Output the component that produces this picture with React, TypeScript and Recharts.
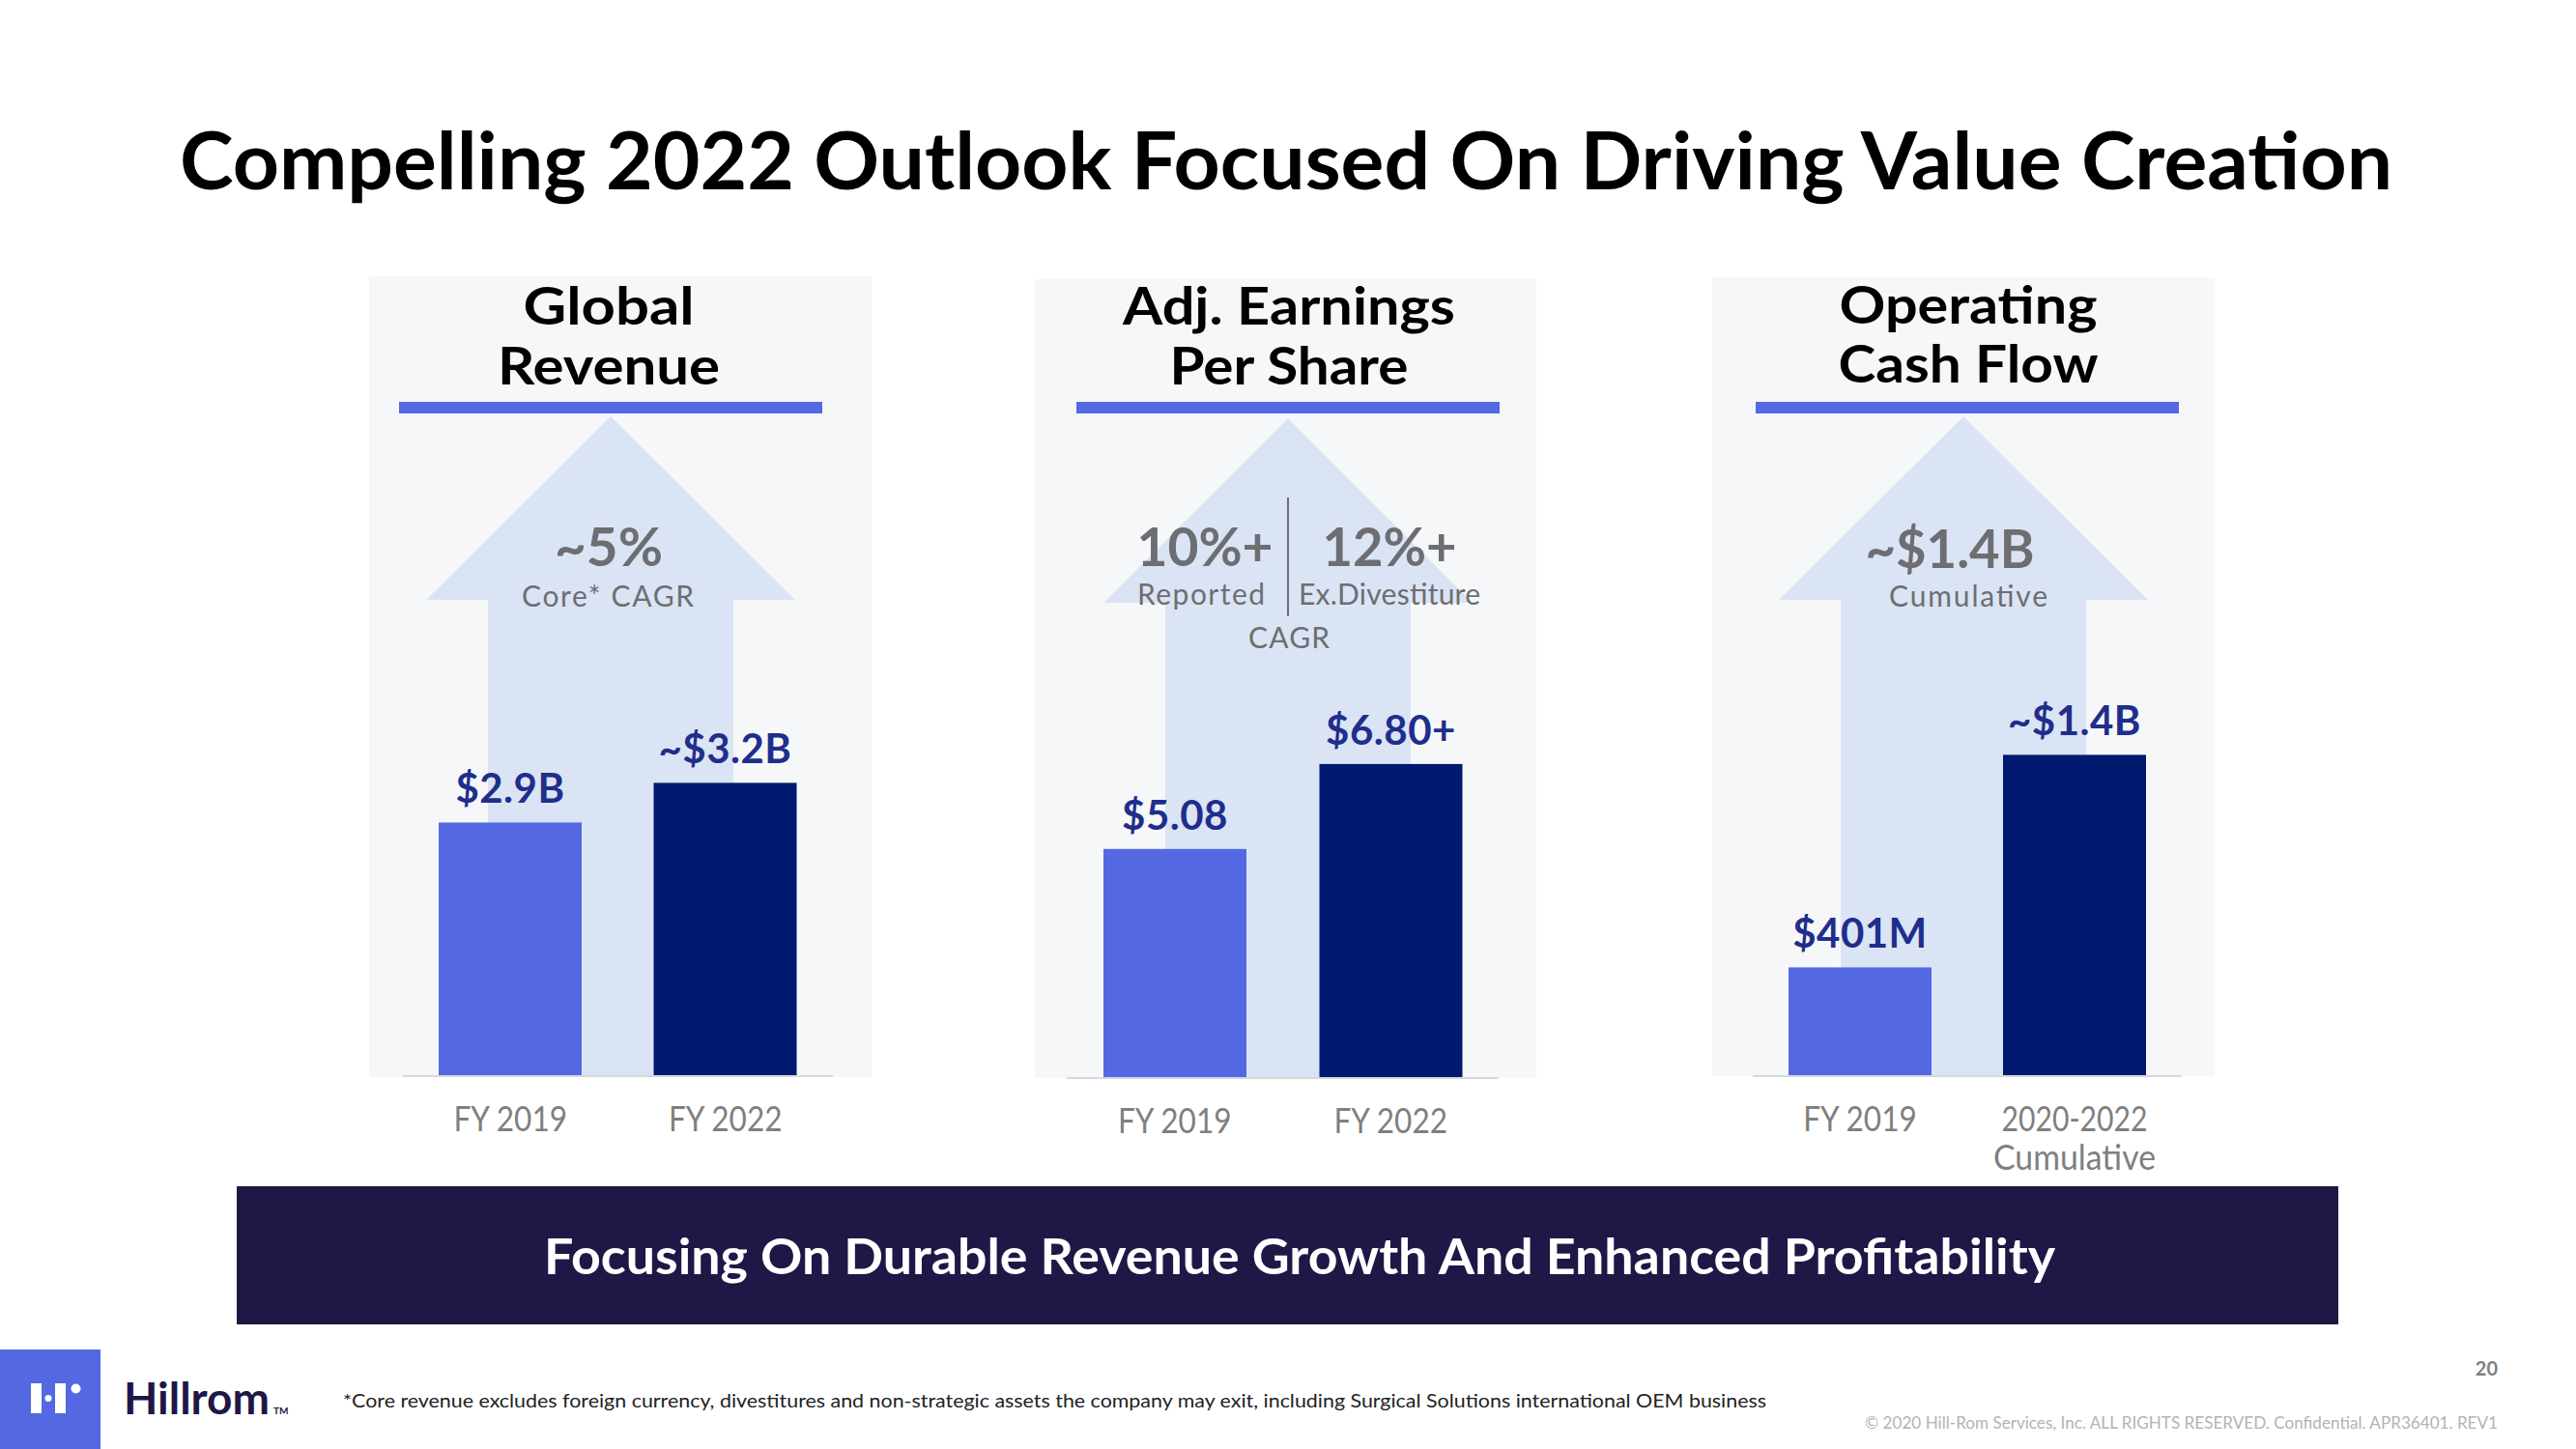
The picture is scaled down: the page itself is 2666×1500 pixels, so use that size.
import React from 'react';
import { BarChart, Bar, XAxis, YAxis, Cell, LabelList } from 'recharts';

// ---------- data ----------
const revenueCategories = ['FY 2019', 'FY 2022'];
const revenueValues = [2.9, 3.2]; // $B
const revenueLabels = ['$2.9B', '~$3.2B'];

const epsCategories = ['FY 2019', 'FY 2022'];
const epsValues = [5.08, 6.8]; // $ per share
const epsLabels = ['$5.08', '$6.80+'];

const cashCategories = ['FY 2019', '2020-2022\nCumulative'];
const cashValues = [0.401, 1.4]; // $B
const cashLabels = ['$401M', '~$1.4B'];

const barColors = ['#5469E1', '#001A70'];

const titleText = 'Compelling 2022 Outlook Focused On Driving Value Creation';
const bannerText = 'Focusing On Durable Revenue Growth And Enhanced Profitability';
const footnoteText =
  '*Core revenue excludes foreign currency, divestitures and non-strategic assets the company may exit, including Surgical Solutions international OEM business';
const copyrightText = '\u00A9 2020  Hill-Rom Services, Inc. ALL RIGHTS RESERVED. Confidential. APR36401. REV1';

// ---------- styles ----------
const FONT = "Lato, 'Noto Sans', 'DejaVu Sans', sans-serif";
const GRAY = '#6D6E71';

const BarShape = (props: any) => {
  const { x, y, width, height, fill, background } = props;
  const bottom =
    background && Number.isFinite(background.y) && Number.isFinite(background.height)
      ? background.y + background.height
      : y + height;
  return <rect x={x} y={y} width={width} height={Math.max(0, bottom - y)} fill={fill} />;
};

const TopLabel = (props: any) => {
  const vb = props.viewBox || {};
  const x = Number.isFinite(props.x) ? props.x : vb.x;
  const y = Number.isFinite(props.y) ? props.y : vb.y;
  const w = Number.isFinite(props.width) ? props.width : vb.width;
  return (
    <text
      x={x + w / 2}
      y={y - 20}
      textAnchor="middle"
      fontFamily={FONT}
      fontWeight={700}
      fontSize={42}
      letterSpacing={0.5}
      fill="#1F2E8C"
    >
      {props.value}
    </text>
  );
};

const CatTick = (props: any) => {
  const { x, y, payload } = props;
  const lines = String(payload.value).split('\n');
  return (
    <g>
      {lines.map((ln, i) => (
        <text
          key={i}
          x={x}
          y={y + 57 + i * 40}
          textAnchor="middle"
          fontFamily={FONT}
          fontSize={36}
          fill="#7F7F7F"
          textLength={ln.length * 16.8}
          lengthAdjust="spacingAndGlyphs"
        >
          {ln}
        </text>
      ))}
    </g>
  );
};

function PanelChart(p: {
  left: number;
  top: number;
  width: number;
  plotHeight: number;
  domain: [number, number];
  categories: string[];
  values: number[];
  labels: string[];
}) {
  const data = p.categories.map((c, i) => ({ name: c, value: p.values[i], label: p.labels[i] }));
  const axisH = 130;
  const h = p.plotHeight + axisH;
  return (
    <div style={{ position: 'absolute', left: p.left, top: p.top, width: p.width, height: h }}>
      <BarChart width={p.width} height={h} data={data} margin={{ top: 0, right: 0, bottom: 0, left: 0 }} barSize={148}>
        <XAxis
          dataKey="name"
          height={axisH}
          interval={0}
          tickLine={false}
          tickSize={0}
          tickMargin={0}
          axisLine={{ stroke: '#D6D8DB', strokeWidth: 2 }}
          tick={<CatTick />}
        />
        <YAxis type="number" hide width={0} domain={p.domain} allowDataOverflow />
        <Bar dataKey="value" isAnimationActive={false} shape={BarShape}>
          {data.map((d, i) => (
            <Cell key={i} fill={barColors[i]} />
          ))}
          <LabelList dataKey="label" content={TopLabel} />
        </Bar>
      </BarChart>
    </div>
  );
}

const panels = [
  { bg: [382, 286, 520, 829], c: 632, apex: 431, wing: 621, bottom: 1114, hc: 630, head: ['Global', 'Revenue'], hw: [177, 230], hb: [336, 398], ul: 413 },
  { bg: [1071, 289, 519, 827], c: 1333, apex: 433, wing: 624, bottom: 1116, hc: 1334, head: ['Adj. Earnings', 'Per Share'], hw: [344, 247], hb: [336, 398], ul: 1114 },
  { bg: [1772, 287, 520, 827], c: 2032, apex: 431, wing: 621, bottom: 1114, hc: 2037, head: ['Operating', 'Cash Flow'], hw: [267, 269], hb: [335, 396], ul: 1817 },
];

const T = (props: any) => {
  const { x, y, size, weight, color, w, anchor, adjust, children, spacing } = props;
  return (
    <text
      x={x}
      y={y}
      fontFamily={FONT}
      fontSize={size}
      fontWeight={weight || 400}
      fill={color || '#000'}
      textAnchor={anchor || 'middle'}
      letterSpacing={spacing}
      {...(w ? { textLength: w, lengthAdjust: adjust || 'spacingAndGlyphs' } : {})}
    >
      {children}
    </text>
  );
};

export default function App() {
  return (
    <div style={{ position: 'absolute', left: 0, top: 0, width: 2666, height: 1500, background: '#fff', overflow: 'hidden' }}>
      <svg width={2666} height={1500} style={{ position: 'absolute', left: 0, top: 0 }}>
        <rect x={0} y={0} width={2666} height={1500} fill="#FFFFFF" />
        {panels.map((p, i) => (
          <g key={i}>
            <rect x={p.bg[0]} y={p.bg[1]} width={p.bg[2]} height={p.bg[3]} fill="#F6F7F8" />
            <polygon
              points={`${p.c},${p.apex} ${p.c + 191},${p.wing} ${p.c + 127},${p.wing} ${p.c + 127},${p.bottom} ${p.c - 127},${p.bottom} ${p.c - 127},${p.wing} ${p.c - 191},${p.wing}`}
              fill="#DBE4F4"
            />
            {p.head.map((h, j) => (
              <T key={j} x={p.hc} y={p.hb[j]} size={53} weight={700} w={p.hw[j]}>
                {h}
              </T>
            ))}
            <rect x={p.ul} y={416} width={438} height={12} fill="#5469E1" />
          </g>
        ))}

        {/* Panel 1 CAGR */}
        <T x={630} y={586} size={55} weight={700} color={GRAY} w={112}>~5%</T>
        <T x={629} y={628} size={30} color={GRAY} w={178} adjust="spacing">Core* CAGR</T>

        {/* Panel 2 CAGR */}
        <T x={1247} y={586} size={55} weight={700} color={GRAY} w={141}>10%+</T>
        <T x={1438} y={586} size={55} weight={700} color={GRAY} w={139}>12%+</T>
        <line x1={1333} x2={1333} y1={515} y2={638} stroke={GRAY} strokeWidth={2} />
        <T x={1243} y={626} size={30} color={GRAY} w={132} adjust="spacing">Reported</T>
        <T x={1438} y={626} size={30} color={GRAY} w={188} adjust="spacing">Ex.Divestiture</T>
        <T x={1334} y={671} size={30} color={GRAY} w={84} adjust="spacing">CAGR</T>

        {/* Panel 3 */}
        <T x={2018} y={588} size={55} weight={700} color={GRAY} w={175}>~$1.4B</T>
        <T x={2037} y={628} size={30} color={GRAY} w={164} adjust="spacing">Cumulative</T>

        {/* Title */}
        <T x={1331} y={196} size={82} weight={700} color="#000" w={2290}>{titleText}</T>

        {/* Banner */}
        <rect x={245} y={1228} width={2175} height={143} fill="#201747" />
        <T x={1345} y={1319} size={52} weight={700} color="#FFFFFF" w={1564}>{bannerText}</T>

        {/* Footer logo */}
        <rect x={0} y={1397} width={104} height={103} fill="#5469E1" />
        <rect x={32} y={1432} width={11} height={31} fill="#FFFFFF" />
        <circle cx={50} cy={1447.5} r={3.5} fill="#FFFFFF" />
        <rect x={57} y={1432} width={11} height={31} fill="#FFFFFF" />
        <circle cx={78.5} cy={1437.5} r={5} fill="#FFFFFF" />
        <T x={128} y={1464} size={46} weight={700} color="#201747" w={151} anchor="start">Hillrom</T>
        <T x={283} y={1464} size={10} weight={700} color="#201747" anchor="start">TM</T>
        <T x={355} y={1457} size={20} color="#222222" w={1473} anchor="start">{footnoteText}</T>
        <T x={2585} y={1424} size={20} weight={700} color="#808080" anchor="end">20</T>
        <T x={2585} y={1479} size={17} color="#B3B3B3" w={655} anchor="end">{copyrightText}</T>
      </svg>

      <PanelChart left={417} top={701} width={445} plotHeight={413} domain={[0.98, 4.0]} categories={revenueCategories} values={revenueValues} labels={revenueLabels} />
      <PanelChart left={1104} top={704} width={447} plotHeight={412} domain={[0.44, 8.5]} categories={epsCategories} values={epsValues} labels={epsLabels} />
      <PanelChart left={1814} top={701} width={444} plotHeight={413} domain={[-0.11, 1.765]} categories={cashCategories} values={cashValues} labels={cashLabels} />
    </div>
  );
}
